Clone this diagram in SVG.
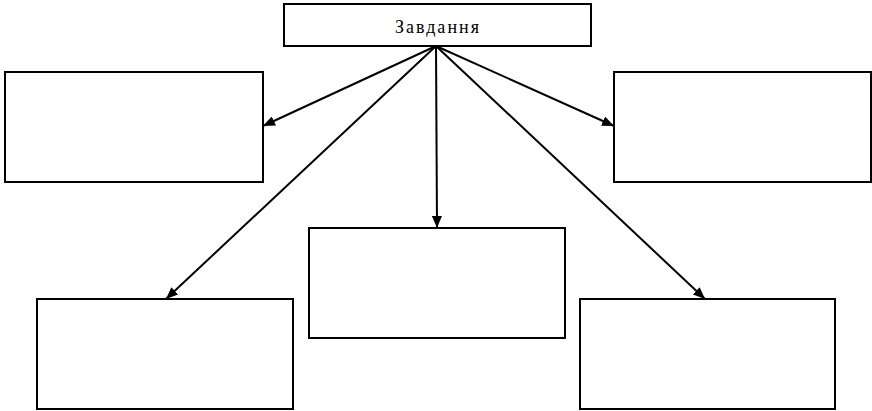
<svg xmlns="http://www.w3.org/2000/svg" width="872" height="411" viewBox="0 0 872 411">
<defs>
<style>
.box{fill:#fff;stroke:#000;stroke-width:2}
.conn{stroke:#000;stroke-width:2;fill:none;marker-end:url(#arr)}
.lbl{font-family:"Liberation Serif","DejaVu Serif",serif;font-size:18px;fill:#000;text-anchor:middle}
</style>
<marker id="arr" viewBox="0 0 12 10" refX="12" refY="5" markerWidth="6" markerHeight="5" orient="auto" markerUnits="strokeWidth">
<path d="M0,0 L12,5 L0,10 Z" fill="#000"/>
</marker>
</defs>
<rect width="872" height="411" fill="#fff"/>
<g id="connectors">
<line class="conn" x1="436" y1="46" x2="263" y2="126"/>
<line class="conn" x1="436" y1="46" x2="614" y2="126"/>
<line class="conn" x1="436" y1="46" x2="437" y2="228"/>
<line class="conn" x1="436" y1="46" x2="166" y2="299"/>
<line class="conn" x1="436" y1="46" x2="705" y2="299"/>
</g>
<g id="task">
<rect class="box" x="284" y="4" width="307" height="42"/>
<text class="lbl" x="437" y="33" textLength="84" lengthAdjust="spacing">Завдання</text>
</g>
<g id="box-left-top"><rect class="box" x="5" y="72" width="258" height="110"/></g>
<g id="box-right-top"><rect class="box" x="614" y="72" width="257" height="110"/></g>
<g id="box-center"><rect class="box" x="309" y="228" width="256" height="110"/></g>
<g id="box-left-bottom"><rect class="box" x="37" y="299" width="256" height="110"/></g>
<g id="box-right-bottom"><rect class="box" x="580" y="299" width="255" height="110"/></g>
</svg>
